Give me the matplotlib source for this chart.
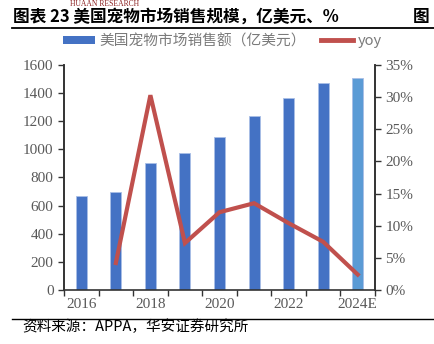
import matplotlib
matplotlib.use("Agg")
import matplotlib.pyplot as plt
from matplotlib.ticker import FuncFormatter, MultipleLocator
from matplotlib.lines import Line2D
from matplotlib.patches import Patch

plt.rcParams['font.family'] = ['Noto Sans CJK SC', 'DejaVu Sans']

years = ['2016', '2017', '2018', '2019', '2020', '2021', '2022', '2023', '2024E']
sales = [668, 697, 903, 974, 1088, 1237, 1368, 1472, 1510]
yoy = [None, 4.2, 30.3, 7.3, 12.1, 13.5, 10.4, 7.5, 2.4]
tick_labels = ['2016', '', '2018', '', '2020', '', '2022', '', '2024E']

W, H = 435, 344
fig = plt.figure(figsize=(W / 100, H / 100), dpi=100)
ax = fig.add_axes([64 / W, 1 - 290 / H, (375 - 64) / W, (290 - 65) / H])
ax2 = ax.twinx()

x = list(range(len(years)))
colors = ['#4472C4'] * (len(years) - 1) + ['#5B9BD5']
ax.bar(x, sales, width=0.32, color=colors, edgecolor='#A9BEE6', linewidth=0.6, zorder=2)
ax.set_xlim(-0.5, len(years) - 0.5)
ax.set_ylim(0, 1600)
ax.yaxis.set_major_locator(MultipleLocator(200))

yx = [i for i, v in enumerate(yoy) if v is not None]
yv = [v for v in yoy if v is not None]
ax2.plot(yx, yv, color='#C0504D', lw=3, solid_joinstyle='miter', zorder=3)
ax2.set_ylim(0, 35)
ax2.yaxis.set_major_locator(MultipleLocator(5))
ax2.yaxis.set_major_formatter(FuncFormatter(lambda v, p: f'{v:.0f}%'))

serif = 'Liberation Serif'
tick_col = '#595959'
ax.set_xticks(x)
ax.set_xticklabels(tick_labels)
ax.set_xticks([i + 0.5 for i in range(-1, len(years))], minor=True)
ax.tick_params(axis='x', which='major', length=0, pad=6)
ax.tick_params(axis='x', which='minor', length=4, width=1, color='#333333', direction='out')
ax.tick_params(axis='y', length=4, width=1, color='#333333', direction='out')
ax2.tick_params(axis='y', length=4, width=1, color='#333333', direction='out')
for lab in ax.get_xticklabels() + ax.get_yticklabels() + ax2.get_yticklabels():
    lab.set_fontfamily(serif)
    lab.set_fontsize(11)
    lab.set_color(tick_col)

for a in (ax, ax2):
    a.spines['top'].set_visible(False)
    a.spines['left'].set_color('#333333')
    a.spines['right'].set_color('#333333')
    a.spines['bottom'].set_color('#333333')
    a.spines['left'].set_linewidth(1.2)
    a.spines['right'].set_linewidth(1.2)
    a.spines['bottom'].set_linewidth(1.2)
ax2.spines['bottom'].set_visible(False)

handles = [Patch(facecolor='#4472C4', edgecolor='none'),
           Line2D([0], [0], color='#C0504D', lw=3.5)]
leg = fig.legend(handles, ['美国宠物市场销售额（亿美元）', 'yoy'],
                 loc='center', bbox_to_anchor=(222 / W, 1 - 41 / H), ncol=2, frameon=False,
                 fontsize=10.6, handlelength=2.2, handleheight=0.5, columnspacing=1.0,
                 handletextpad=0.3, labelcolor='#7a7a7a')
for t in leg.get_texts():
    t.set_fontfamily(['Noto Sans CJK SC', 'Liberation Serif'])

# header
fig.text(13 / W, 1 - 17 / H, '图表 23 美国宠物市场销售规模，亿美元、%', fontsize=12,
         fontweight='bold', va='center', ha='left', color='#000000')
fig.text(413 / W, 1 - 17 / H, '图', fontsize=12, fontweight='bold', va='center',
         ha='left', color='#000000')
fig.text(70 / W, 1 - 4 / H, 'HUAAN RESEARCH', fontsize=5.5, family=serif, color='#8B1E1E',
         va='center', ha='left')
fig.add_artist(Line2D([12 / W, 1], [1 - 28 / H, 1 - 28 / H], color='#000000', lw=1.3))
fig.add_artist(Line2D([12 / W, 1], [1 - 319 / H, 1 - 319 / H], color='#000000', lw=1.0))
fig.text(22 / W, 1 - 327 / H, '资料来源：APPA，华安证券研究所', fontsize=10.5, va='center',
         ha='left', color='#000000')

fig.savefig('out.png', dpi=100)
